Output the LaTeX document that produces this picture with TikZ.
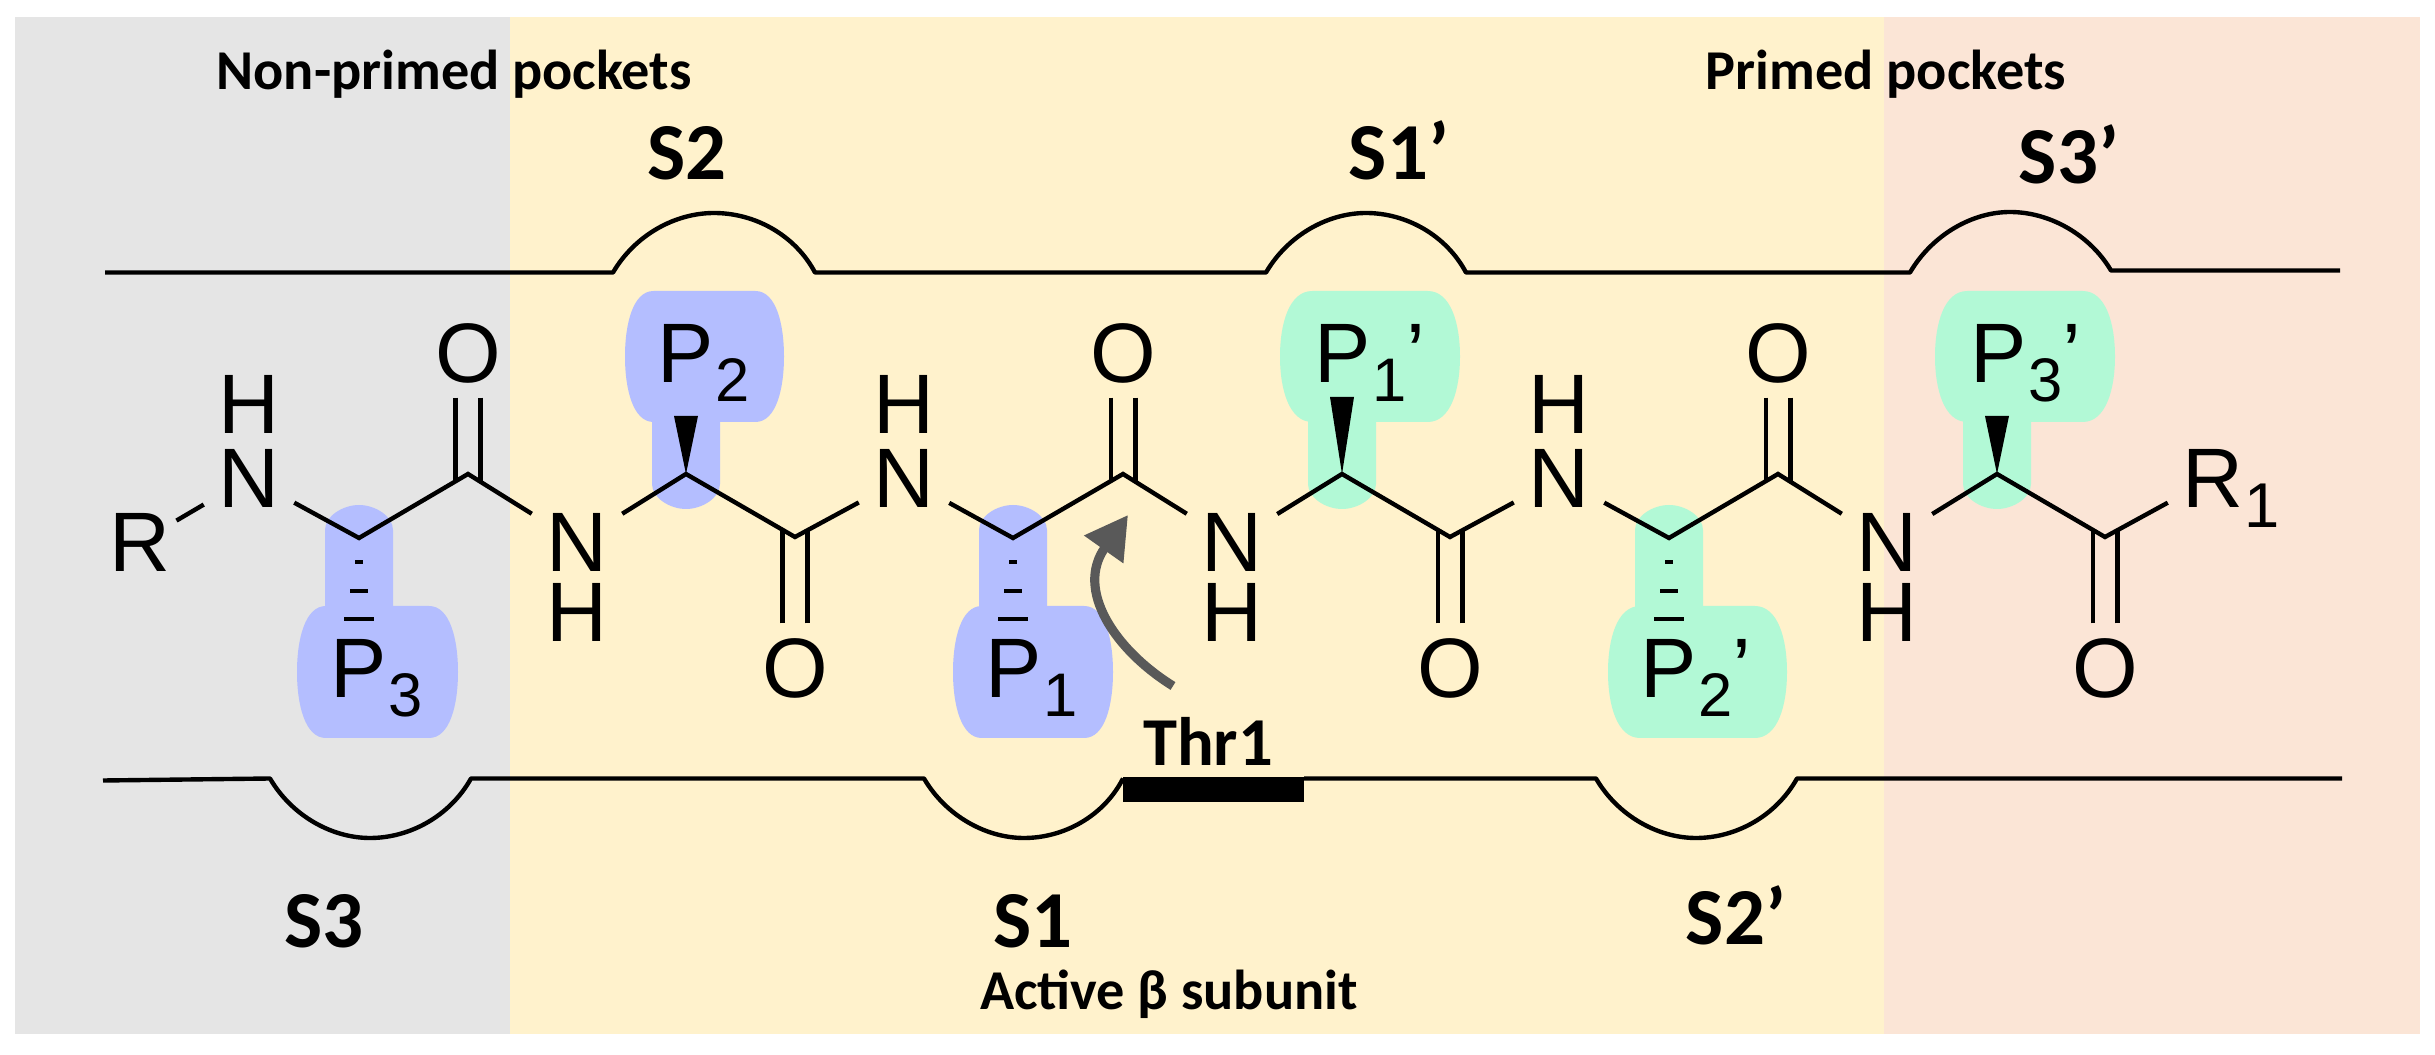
\documentclass[tikz,border=0pt]{standalone}
\usepackage{fontspec}
\setmainfont{Liberation Sans}
\newfontfamily\pocketfont{Carlito}[BoldFont={Carlito Bold}]
\usetikzlibrary{arrows.meta}
\definecolor{nonprimed}{HTML}{E5E5E5}
\definecolor{centre}{HTML}{FFF2CC}
\definecolor{primed}{HTML}{FBE5D6}
\definecolor{blueside}{HTML}{B4BEFF}
\definecolor{greenside}{HTML}{B2F9D6}
\definecolor{thrgray}{HTML}{595959}
\tikzset{atom/.style = {inner sep = 4pt, font = \fontsize{24}{24}\selectfont}}
\tikzset{sidelabel/.style = {inner sep = 0, anchor = base west, font = \fontsize{24}{24}\selectfont}}
\tikzset{bond/.style = {line width = 1.25pt}}
\tikzset{pocketline/.style = {line width = 1.25pt, line join = round}}
\tikzset{biglabel/.style = {inner sep = 0, anchor = base, font = \pocketfont\bfseries\fontsize{23}{23}\selectfont}}
\tikzset{smalllabel/.style = {inner sep = 0, anchor = base, font = \pocketfont\bfseries\fontsize{16}{16}\selectfont}}
\newcommand{\sidesub}[2]{P\kern0.3pt\raisebox{-5.4pt}{\fontsize{17.5}{17.5}\selectfont #1}#2}
% blob: colour, left, top, width, height
\newcommand{\sideblob}[5]{
  \begin{scope}[shift={(#2, #3)}, xscale=#4, yscale=#5]
    \fill [#1] (0.18, 0) -- (0.82, 0) .. controls (0.95, 0) and (1, 0.25) .. (1, 0.5)
      .. controls (1, 0.75) and (0.95, 1) .. (0.82, 1) -- (0.18, 1)
      .. controls (0.05, 1) and (0, 0.75) .. (0, 0.5) .. controls (0, 0.25) and (0.05, 0) .. cycle;
  \end{scope}}
% stems: colour, x of the centre, carbon y
\newcommand{\stemdown}[3]{
  \begin{scope}[shift={(#2, #3)}]
    \fill [#1] (-34, 75) -- (-34, -8) .. controls (-34, -22) and (-16, -33) .. (0, -33)
      .. controls (16, -33) and (34, -22) .. (34, -8) -- (34, 75) -- cycle;
  \end{scope}}
\newcommand{\stemup}[3]{
  \begin{scope}[shift={(#2, #3)}]
    \fill [#1] (-34, -60) -- (-34, 10) .. controls (-34, 24) and (-16, 35) .. (0, 35)
      .. controls (16, 35) and (34, 24) .. (34, 10) -- (34, -60) -- cycle;
  \end{scope}}
\newcommand{\hashbond}[1]{
  \draw [bond] ([shift={(-4, 24)}]#1) -- ([shift={(4, 24)}]#1);
  \draw [bond] ([shift={(-9, 53)}]#1) -- ([shift={(9, 53)}]#1);
  \draw [bond] ([shift={(-15, 81)}]#1) -- ([shift={(15, 81)}]#1);}
\newcommand{\wedgebond}[2]{
  \fill ([shift={(-12, 0)}]#2) -- (#1) -- ([shift={(12, 0)}]#2) -- cycle;}
\newcommand{\dbldown}[2]{
  \draw [bond] ([xshift=-3.5pt]#1.south) -- ([shift={(-3.5pt, -2.2pt)}]#2);
  \draw [bond] ([xshift=3.5pt]#1.south) -- ([shift={(3.5pt, -2.2pt)}]#2);}
\newcommand{\dblup}[2]{
  \draw [bond] ([xshift=-3.5pt]#1.north) -- ([shift={(-3.5pt, 2.2pt)}]#2);
  \draw [bond] ([xshift=3.5pt]#1.north) -- ([shift={(3.5pt, 2.2pt)}]#2);}

\begin{document}
\begin{tikzpicture}[x=0.01cm, y=-0.01cm]
    \useasboundingbox (0, 0) rectangle (2435, 1055);

    \fill [nonprimed] (15, 17) rectangle (510, 1034);
    \fill [centre] (510, 17) rectangle (1884, 1034);
    \fill [primed] (1884, 17) rectangle (2420, 1034);

    % side chains
    \stemdown{blueside}{359}{538}
    \sideblob{blueside}{297}{606}{161}{132}
    \stemup{blueside}{686}{474}
    \sideblob{blueside}{625}{291}{159}{131}
    \stemdown{blueside}{1013}{538}
    \sideblob{blueside}{953}{606}{160}{132}
    \stemup{greenside}{1342}{474}
    \sideblob{greenside}{1280}{291}{180}{131}
    \stemdown{greenside}{1669}{538}
    \sideblob{greenside}{1608}{606}{179}{132}
    \stemup{greenside}{1997}{474}
    \sideblob{greenside}{1935}{291}{180}{131}

    % pocket walls
    \draw [pocketline] (105, 272.5) -- (613, 272.5)
      .. controls (635, 235) and (675, 213) .. (714, 213)
      .. controls (755, 213) and (795, 235) .. (815, 272.5) -- (1266, 272.5)
      .. controls (1288, 235) and (1328, 213) .. (1366, 213)
      .. controls (1406, 213) and (1446, 235) .. (1466, 272.5) -- (1910, 272.5)
      .. controls (1932, 235) and (1972, 212) .. (2010, 212)
      .. controls (2050, 212) and (2090, 235) .. (2111, 270.5) -- (2340, 270.5);
    \draw [pocketline] (103, 780.5) -- (270, 778.5)
      .. controls (292, 816) and (332, 838) .. (370, 838)
      .. controls (410, 838) and (450, 816) .. (471, 778.5) -- (924, 778.5)
      .. controls (946, 816) and (986, 838) .. (1024, 838)
      .. controls (1064, 838) and (1104, 816) .. (1123, 778.5);
    \draw [pocketline] (1304, 778.5) -- (1596, 778.5)
      .. controls (1618, 816) and (1658, 838) .. (1696, 838)
      .. controls (1736, 838) and (1776, 816) .. (1797, 778.5) -- (2342, 778.5);
    \fill (1123, 777) rectangle (1304, 802);

    % backbone
    \node [atom, inner sep = 1.5pt] (R) at (140, 542) {R};
    \node [atom] (N1) at (249, 478) {N};
    \node [atom] (H1) at (249, 404) {H};
    \coordinate (Ca1) at (359, 538);
    \coordinate (Cc1) at (468, 474);
    \node [atom] (O1) at (468, 353) {O};
    \node [atom] (N2) at (577, 542) {N};
    \node [atom] (H2) at (577, 612) {H};
    \coordinate (Ca2) at (686, 474);
    \coordinate (Cc2) at (795, 537);
    \node [atom] (O2) at (795, 668) {O};
    \node [atom] (N3) at (904, 478) {N};
    \node [atom] (H3) at (904, 404) {H};
    \coordinate (Ca3) at (1013, 538);
    \coordinate (Cc3) at (1123, 474);
    \node [atom] (O3) at (1123, 353) {O};
    \node [atom] (N4) at (1232, 542) {N};
    \node [atom] (H4) at (1232, 612) {H};
    \coordinate (Ca4) at (1342, 474);
    \coordinate (Cc4) at (1450, 537);
    \node [atom] (O4) at (1450, 668) {O};
    \node [atom] (N5) at (1559, 478) {N};
    \node [atom] (H5) at (1559, 404) {H};
    \coordinate (Ca5) at (1669, 538);
    \coordinate (Cc5) at (1778, 474);
    \node [atom] (O5) at (1778, 353) {O};
    \node [atom] (N6) at (1887, 542) {N};
    \node [atom] (H6) at (1887, 612) {H};
    \coordinate (Ca6) at (1997, 474);
    \coordinate (Cc6) at (2105, 537);
    \node [atom] (O6) at (2105, 668) {O};
    \node [atom] (R1) at (2213, 478) {R};
    \node [sidelabel, font=\fontsize{18}{18}\selectfont] (R1sub) at (2244, 528) {1};

    \draw [bond] (R) -- (N1);
    \draw [bond] (N1) -- (Ca1) -- (Cc1) -- (N2);
    \draw [bond] (N2) -- (Ca2) -- (Cc2) -- (N3);
    \draw [bond] (N3) -- (Ca3) -- (Cc3) -- (N4);
    \draw [bond] (N4) -- (Ca4) -- (Cc4) -- (N5);
    \draw [bond] (N5) -- (Ca5) -- (Cc5) -- (N6);
    \draw [bond] (N6) -- (Ca6) -- (Cc6) -- (R1);
    \dbldown{O1}{Cc1}
    \dblup{O2}{Cc2}
    \dbldown{O3}{Cc3}
    \dblup{O4}{Cc4}
    \dbldown{O5}{Cc5}
    \dblup{O6}{Cc6}

    % stereo bonds
    \hashbond{Ca1}
    \hashbond{Ca3}
    \hashbond{Ca5}
    \coordinate (Wt2) at (686, 416);
    \coordinate (Wt4) at (1342, 397);
    \coordinate (Wt6) at (1997, 416);
    \wedgebond{Ca2}{Wt2}
    \wedgebond{Ca4}{Wt4}
    \wedgebond{Ca6}{Wt6}

    \node [sidelabel] (P3) at (330, 698) {\sidesub{3}{}};
    \node [sidelabel] (P2) at (657, 383) {\sidesub{2}{}};
    \node [sidelabel] (P1) at (985, 698) {\sidesub{1}{}};
    \node [sidelabel] (P1p) at (1314, 383) {\sidesub{1}{’}};
    \node [sidelabel] (P2p) at (1640, 698) {\sidesub{2}{’}};
    \node [sidelabel] (P3p) at (1970, 383) {\sidesub{3}{’}};

    % threonine attack
    \coordinate (Thrtail) at (1173, 686);
    \coordinate (Thrtip) at (1128, 515);
    \draw [thrgray, line width = 2.6pt, -{Triangle[length=12pt, width=13pt]}]
      (Thrtail) .. controls (1115, 650) and (1075, 590) .. (Thrtip);

    \node [smalllabel] (nonprimedtext) at (454, 89.5) {Non-primed pockets};
    \node [smalllabel] (primedtext) at (1886, 89.5) {Primed pockets};
    \node [smalllabel] (activetext) at (1169, 1009) {Active β subunit};
    \node [biglabel, font=\pocketfont\bfseries\fontsize{19.5}{19.5}\selectfont] (thrtext) at (1208, 765) {Thr1};
    \node [biglabel] (S2) at (687, 180) {S2};
    \node [biglabel] (S1p) at (1399, 180) {S1’};
    \node [biglabel] (S3p) at (2069, 184) {S3’};
    \node [biglabel] (S3) at (324, 947) {S3};
    \node [biglabel] (S1) at (1033, 947) {S1};
    \node [biglabel] (S2p) at (1736, 945) {S2’};
\end{tikzpicture}
\end{document}
